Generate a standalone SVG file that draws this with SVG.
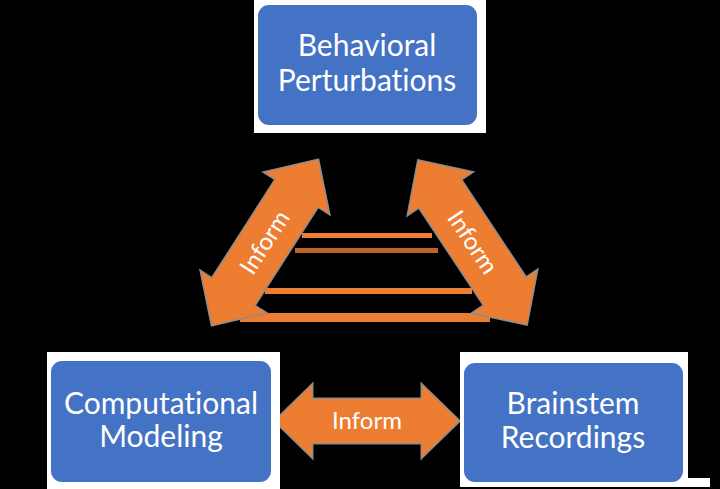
<svg xmlns="http://www.w3.org/2000/svg" width="720" height="489" viewBox="0 0 720 489">
<style>
.bg{fill:#000}
.back{fill:#fff}
.box{fill:#4472C4;stroke:#fff;stroke-width:2}
.lbl{font-family:Lato,"Open Sans",sans-serif;font-size:30px;fill:#fff;text-anchor:middle;font-variant-ligatures:none}
.arr{fill:#ED7D31;stroke:#8c8c8c;stroke-width:3;paint-order:stroke;stroke-linejoin:miter}
.alb{font-family:Lato,"Open Sans",sans-serif;font-size:24px;fill:#fff;text-anchor:middle;font-variant-ligatures:none}
.band{fill:#ED7D31}
</style>
<defs>
<path id="dbl" d="M-98,0 L-59,-38 L-59,-25 L59,-25 L59,-38 L98,0 L59,38 L59,25 L-59,25 L-59,38 Z"/>
</defs>
<rect class="bg" x="0" y="0" width="720" height="489"/>
<g id="artifacts">
<rect class="band" x="302" y="233" width="130" height="5"/>
<rect class="band" x="295" y="248" width="143" height="5" opacity="0.8"/>
<rect class="band" x="265" y="288" width="207" height="6"/>
<rect class="band" x="240" y="313" width="250" height="9"/>
</g>
<g id="connectors">
<g id="conn-left" transform="translate(265,242.5) rotate(-57.3)">
<use href="#dbl" class="arr"/>
<text class="alb" x="0" y="8">Inform</text>
</g>
<g id="conn-right" transform="translate(472.5,242.5) rotate(56.5)">
<use href="#dbl" class="arr"/>
<text class="alb" x="0" y="8">Inform</text>
</g>
<g id="conn-bottom">
<path class="arr" d="M275,421 L312,385 L312,399 L422,399 L422,385 L459,421 L422,457 L422,443 L312,443 L312,457 Z"/>
<text class="alb" x="367" y="429">Inform</text>
</g>
</g>
<g id="node-behavioral">
<rect class="back" x="254" y="0" width="232" height="133"/>
<rect class="box" x="257" y="4" width="221" height="122" rx="12"/>
<text class="lbl" x="367" y="56">Behavioral</text>
<text class="lbl" x="367" y="91">Perturbations</text>
</g>
<g id="node-computational">
<rect class="back" x="47" y="352" width="233" height="137"/>
<rect class="box" x="50" y="360" width="222" height="123" rx="12"/>
<text class="lbl" x="161" y="414">Computational</text>
<text class="lbl" x="161" y="447">Modeling</text>
</g>
<g id="node-brainstem">
<rect class="back" x="460" y="352" width="228" height="135"/>
<rect class="back" x="683" y="478" width="27" height="9"/>
<rect class="box" x="463" y="362" width="221" height="121" rx="12"/>
<text class="lbl" x="573" y="414">Brainstem</text>
<text class="lbl" x="573" y="448">Recordings</text>
</g>
</svg>
